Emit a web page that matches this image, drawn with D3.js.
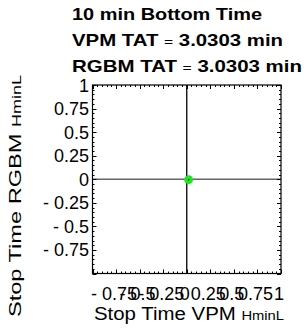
<!DOCTYPE html>
<html>
<head>
<meta charset="utf-8">
<script src="https://cdn.jsdelivr.net/npm/d3@7"></script>
<style>
  body { margin: 0; background: #fff; }
  text { font-family: "Liberation Sans", Arial, sans-serif; fill: #000; }
</style>
</head>
<body>
<div id="chart"></div>
<script>
var svgWidth = 304;
var svgHeight = 331;

// data
var titleLines = ['10 min Bottom Time', 'VPM TAT', 'RGBM TAT'];
var tatValues = ['3.0303 min', '3.0303 min'];
var vpmStop = [0.02];
var rgbmStop = [-0.005];
var xTickValues = [-0.75, -0.5, -0.25, 0, 0.25, 0.5, 0.75, 1];
var yTickValues = [-0.75, -0.5, -0.25, 0, 0.25, 0.5, 0.75, 1];

var frame = { left: 92.5, right: 281, top: 85, bottom: 273.5 };

var svg = d3.select('#chart')
  .append('svg')
  .attr('width', svgWidth)
  .attr('height', svgHeight);

svg.append('rect')
  .attr('width', svgWidth)
  .attr('height', svgHeight)
  .attr('fill', '#fff');

var xScale = d3.scaleLinear().domain([-1, 1]).range([frame.left, frame.right]);
var yScale = d3.scaleLinear().domain([-1, 1]).range([frame.bottom, frame.top]);

function fmt(d) {
  if (d < 0) return '- ' + String(-d);
  return String(d);
}

// reference lines through the origin
svg.append('line')
  .attr('x1', frame.left).attr('x2', frame.right)
  .attr('y1', yScale(0)).attr('y2', yScale(0))
  .attr('stroke', '#666').attr('stroke-width', 1.6);

svg.append('line')
  .attr('x1', xScale(0)).attr('x2', xScale(0))
  .attr('y1', frame.top).attr('y2', frame.bottom)
  .attr('stroke', '#000').attr('stroke-width', 1.3);

// frame ticks on all four sides (inward)
var minor = d3.range(-1, 1.0001, 0.05);
var major = d3.range(-1, 1.0001, 0.25);

var tickGroup = svg.append('g').attr('stroke', '#000').attr('stroke-width', 1);

function isMajor(d) {
  return major.some(m => Math.abs(m - d) < 1e-6);
}

minor.forEach(function(d) {
  var len = isMajor(d) ? 4 : 2;
  var x = Math.round(xScale(d)) + 0.5;
  var y = Math.round(yScale(d)) + 0.5;
  tickGroup.append('line').attr('x1', x).attr('x2', x).attr('y1', frame.bottom).attr('y2', frame.bottom - len);
  tickGroup.append('line').attr('x1', x).attr('x2', x).attr('y1', frame.top).attr('y2', frame.top + len);
  tickGroup.append('line').attr('x1', frame.left).attr('x2', frame.left + len).attr('y1', y).attr('y2', y);
  tickGroup.append('line').attr('x1', frame.right).attr('x2', frame.right - len).attr('y1', y).attr('y2', y);
});

svg.append('rect')
  .attr('x', frame.left).attr('y', frame.top)
  .attr('width', frame.right - frame.left)
  .attr('height', frame.bottom - frame.top)
  .attr('fill', 'none')
  .attr('stroke', '#000')
  .attr('stroke-width', 1.2);

// tick labels
svg.append('g').selectAll('text')
  .data(xTickValues)
  .enter()
  .append('text')
  .attr('x', d => xScale(d) - 2)
  .attr('y', 300)
  .attr('text-anchor', 'middle')
  .attr('font-size', '18px')
  .text(fmt);

svg.append('g').selectAll('text')
  .data(yTickValues)
  .enter()
  .append('text')
  .attr('x', 89)
  .attr('y', d => yScale(d) + 6.5)
  .attr('text-anchor', 'end')
  .attr('font-size', '18px')
  .text(fmt);

// the point
var points = vpmStop.map((v, i) => ({ x: v, y: rgbmStop[i] }));
svg.selectAll('circle.pt')
  .data(points)
  .enter()
  .append('circle')
  .attr('class', 'pt')
  .attr('cx', d => xScale(d.x))
  .attr('cy', d => yScale(d.y))
  .attr('r', 4.4)
  .attr('fill', '#1ee61e');

svg.selectAll('circle.ctr')
  .data(points)
  .enter()
  .append('circle')
  .attr('class', 'ctr')
  .attr('cx', d => xScale(d.x))
  .attr('cy', d => yScale(d.y))
  .attr('r', 0.7)
  .attr('fill', '#000');

// axis titles
var xTitle = svg.append('text')
  .attr('x', 94)
  .attr('y', 320)
  .attr('font-size', '18px')
  .attr('textLength', 190)
  .attr('lengthAdjust', 'spacingAndGlyphs');
xTitle.append('tspan').text('Stop Time VPM ');
xTitle.append('tspan').attr('font-size', '13px').text('HminL');

var yTitle = svg.append('text')
  .attr('transform', 'translate(21, 317) rotate(-90)')
  .attr('font-size', '17px')
  .attr('textLength', 242)
  .attr('lengthAdjust', 'spacingAndGlyphs');
yTitle.append('tspan').text('Stop Time RGBM ');
yTitle.append('tspan').attr('font-size', '13px').text('HminL');

// plot title, three lines
var titleG = svg.append('g').attr('font-weight', 'bold').attr('font-size', '17px');

titleG.append('text')
  .attr('x', 72).attr('y', 20)
  .attr('textLength', 190)
  .attr('lengthAdjust', 'spacingAndGlyphs')
  .text(titleLines[0]);

[1, 2].forEach(function(i) {
  var t = titleG.append('text')
    .attr('x', 72).attr('y', 20 + i * 25.8)
    .attr('textLength', i === 1 ? 211 : 230)
    .attr('lengthAdjust', 'spacingAndGlyphs');
  t.append('tspan').text(titleLines[i] + '  ');
  t.append('tspan').attr('font-weight', 'normal').attr('font-size', '13px').text('=');
  t.append('tspan').text('  ' + tatValues[i - 1]);
});
</script>
</body>
</html>
